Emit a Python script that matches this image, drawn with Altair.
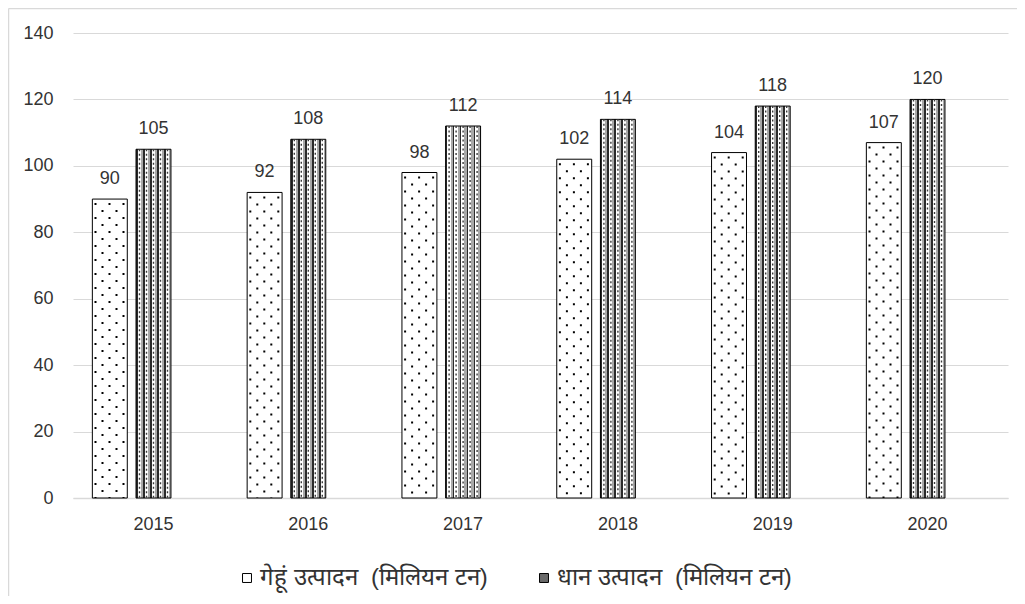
import altair as alt
import pandas as pd

# ---- data ----
years = ["2015", "2016", "2017", "2018", "2019", "2020"]
wheat = [90, 92, 98, 102, 104, 107]
rice = [105, 108, 112, 114, 118, 120]
series_names = ["गेहूं उत्पादन\u00a0 (मिलियन टन)", "धान उत्पादन\u00a0 (मिलियन टन)"]
y_ticks = [0, 20, 40, 60, 80, 100, 120, 140]

rows = []
for yr, w, r in zip(years, wheat, rice):
    rows.append({"year": yr, "series": series_names[0], "value": w})
    rows.append({"year": yr, "series": series_names[1], "value": r})
df = pd.DataFrame(rows)

# third (empty) slot as in the original grouped layout
slot_names = series_names + ["_empty"]

FONT = "Liberation Sans"
TXT = "#333333"
GRID = "#d9d9d9"
W, H = 935, 465

x_enc = alt.X(
    "year:N", sort=years,
    scale=alt.Scale(paddingInner=0.21, paddingOuter=0.125),
    axis=alt.Axis(title=None, labelAngle=0, ticks=False, domainColor=GRID,
                  domainWidth=1.5, labelPadding=17, labelFontSize=18,
                  labelColor=TXT, grid=False),
)
xoff_enc = alt.XOffset("series:N",
                       scale=alt.Scale(domain=slot_names, paddingInner=0.2, paddingOuter=0))
y_enc = alt.Y(
    "value:Q", scale=alt.Scale(domain=[0, 140], nice=False),
    axis=alt.Axis(title=None, values=y_ticks, ticks=False, domain=False,
                  gridColor=GRID, gridWidth=1, labelPadding=20, labelFontSize=18,
                  labelColor=TXT),
)

base = alt.Chart(df)
wheat_data = base.transform_filter(alt.datum.series == series_names[0])
rice_data = base.transform_filter(alt.datum.series == series_names[1])

wheat_bars = wheat_data.mark_bar(fill="white", stroke="black", strokeWidth=1).encode(
    x=x_enc, xOffset=xoff_enc, y=y_enc)

# checkered look for rice bars: vertical stripe gradient
stops = []
for k in range(5):
    a = k / 5.0
    p = 1 / 5.0
    stops += [
        alt.GradientStop(color="#2a2a2a", offset=a),
        alt.GradientStop(color="#2a2a2a", offset=a + 0.25 * p),
        alt.GradientStop(color="#ffffff", offset=a + 0.25 * p),
        alt.GradientStop(color="#ffffff", offset=a + 0.7 * p),
        alt.GradientStop(color="#a8a8a8", offset=a + 0.7 * p),
        alt.GradientStop(color="#a8a8a8", offset=a + p),
    ]
rice_fill = alt.LinearGradient(gradient="linear", stops=stops, x1=0, x2=1, y1=0, y2=0)
rice_bars = rice_data.mark_bar(fill=rice_fill, stroke="black", strokeWidth=1).encode(
    x=x_enc, xOffset=xoff_enc, y=y_enc)

layers = [wheat_bars, rice_bars]

# dashes inside rice bars (checks)
for off in [-14, -7, 0, 7, 14]:
    layers.append(
        rice_data.mark_rule(stroke="#3a3a3a", strokeWidth=1.4, strokeDash=[2, 2.5],
                            strokeCap="butt", xOffset=off).encode(
            x=x_enc, y=y_enc, y2=alt.datum(0))
    )

# dots inside wheat bars
for i, off in enumerate([-58, -51, -44, -37, -30]):
    layers.append(
        wheat_data.mark_rule(stroke="black", strokeWidth=2, strokeDash=[2, 12],
                             strokeCap="butt", strokeDashOffset=(10 if i % 2 == 0 else 3),
                             xOffset=off).encode(
            x=x_enc, y=y_enc, y2=alt.datum(0))
    )

labels = base.mark_text(baseline="alphabetic", dy=-15, fontSize=18, color=TXT).encode(
    x=x_enc, xOffset=xoff_enc, y=y_enc, text="value:Q")
layers.append(labels)

legend_layer = base.mark_point(shape="square", size=0, opacity=0, filled=True).encode(
    x=x_enc, y=y_enc,
    fill=alt.Fill("series:N",
                  scale=alt.Scale(domain=series_names, range=["white", "#6a6a6a"]),
                  legend=alt.Legend(title=None, orient="none", legendX=162, legendY=533,
                                    direction="horizontal", columnPadding=44,
                                    symbolType="square", symbolSize=80,
                                    symbolStrokeColor="black", symbolStrokeWidth=1,
                                    symbolOpacity=1, labelFontSize=24, labelColor=TXT,
                                    labelLimit=0, labelOffset=1)),
)
layers.append(legend_layer)

one = pd.DataFrame({"k": [0]})
border_top = alt.Chart(one).mark_rule(color=GRID, strokeWidth=1.5).encode(
    x=alt.value(-64.5), x2=alt.value(W + 20), y=alt.value(-24.5), y2=alt.value(-24.5))
border_left = alt.Chart(one).mark_rule(color=GRID, strokeWidth=1.5).encode(
    x=alt.value(-64.5), x2=alt.value(-64.5), y=alt.value(-24.5), y2=alt.value(H + 120))
layers += [border_top, border_left]

chart = alt.layer(*layers).properties(
    width=W, height=H,
    padding={"left": 65, "top": 25, "right": 9, "bottom": 98},
    autosize=alt.AutoSizeParams(type="none"),
).configure(font=FONT, background="white").configure_view(stroke=None)

chart.save("out.html", embed_options={"renderer": "svg", "actions": False})
